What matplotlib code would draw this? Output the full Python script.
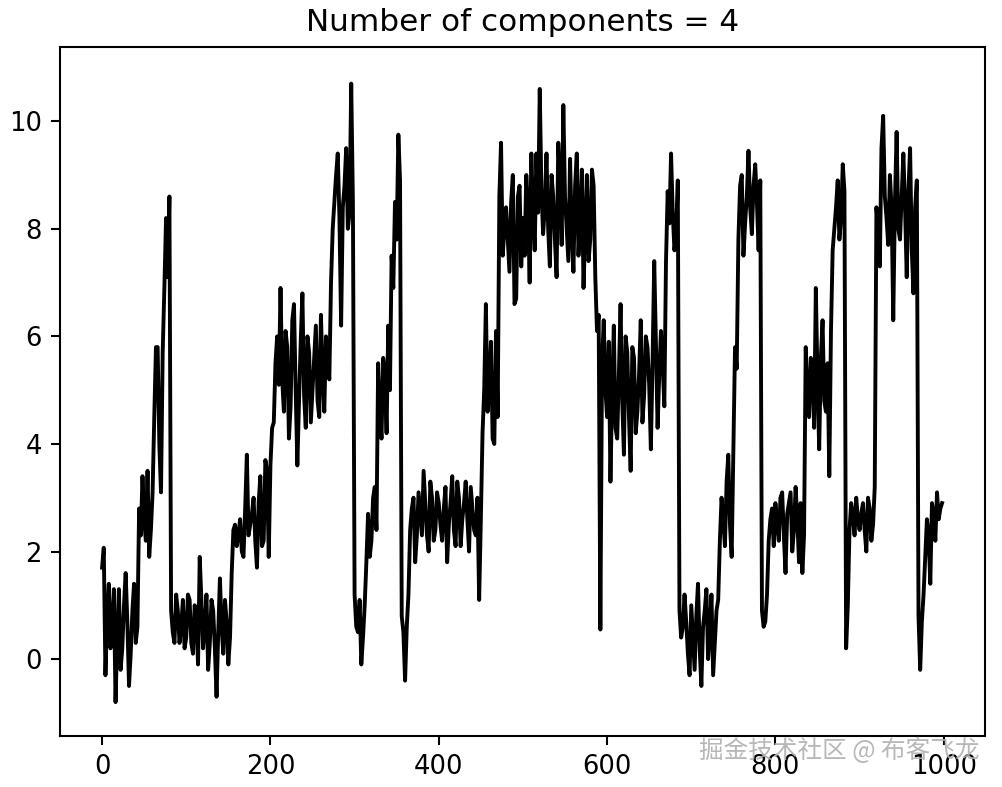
import numpy as np
import matplotlib
matplotlib.use('Agg')
import matplotlib.pyplot as plt

# 값은 그림에서 눈으로 읽은 것
# seg_* : x = 0, 4, 8, ... 996 / mid_* : x = 2, 6, 10, ... 998
seg_0 = [1.7, -0.3, 1.4, 0.6, -0.8, 1.3, 0.2, 1.6, -0.5, 0.9, 0.3, 2.8, 3.4,
         2.2, 1.9, 3.1, 5.8, 4.0, 5.7, 8.2, 8.6, 0.5, 1.2, 0.3, 1.1]
seg_1 = [0.4, 1.1, 0.1, 0.8, 1.9, 0.2, 1.2, 0.3, 0.9, -0.7, 1.5, 0.1, 0.7,
         0.4, 2.4, 2.1, 2.6, 1.9, 3.8, 2.5, 3.0, 1.7, 3.4, 2.2, 3.5]
seg_2 = [3.6, 4.4, 6.0, 6.9, 4.6, 5.8, 4.7, 6.6, 3.6, 5.9, 4.9, 6.0, 4.4,
         5.6, 4.8, 6.4, 4.6, 5.5, 7.0, 8.5, 9.4, 6.2, 8.8, 8.0, 10.7]
seg_3 = [1.2, 0.5, -0.1, 1.0, 2.7, 2.2, 3.2, 5.5, 4.1, 5.3, 6.2, 7.5, 8.5,
         9.75, 0.8, -0.4, 1.2, 2.8, 1.8, 3.1, 2.3, 2.9, 2.0, 3.0, 2.4]
seg_4 = [2.9, 2.2, 3.2, 2.5, 3.4, 2.1, 3.0, 2.6, 3.3, 2.0, 2.8, 2.3, 1.1,
         4.2, 6.6, 5.0, 4.1, 6.1, 8.6, 7.5, 8.4, 7.2, 9.0, 6.7, 8.8]
seg_5 = [8.2, 9.0, 7.0, 8.3, 9.4, 10.6, 7.9, 9.4, 7.3, 8.6, 7.1, 8.9, 10.3,
         8.0, 9.3, 7.2, 9.4, 8.2, 6.9, 9.0, 7.8, 8.8, 6.1, 0.55, 6.3]
seg_6 = [4.5, 3.3, 6.2, 4.1, 6.6, 3.8, 5.7, 3.5, 5.6, 4.6, 6.3, 4.9, 5.8,
         3.9, 7.4, 4.3, 6.1, 4.7, 8.7, 9.4, 7.6, 8.9, 0.4, 1.2, 0.1]
seg_7 = [1.0, -0.2, 1.4, -0.5, 0.9, 0.0, 1.2, 0.3, 1.1, 3.0, 2.1, 3.8, 1.9,
         5.8, 7.8, 9.0, 8.1, 9.45, 7.9, 9.2, 7.6, 0.9, 0.7, 2.2, 2.8]
seg_8 = [2.9, 2.2, 3.1, 1.6, 2.9, 2.0, 3.2, 1.8, 1.6, 5.8, 4.5, 5.4, 6.9,
         3.9, 6.3, 4.6, 3.4, 7.6, 8.4, 7.8, 9.2, 0.2, 2.4, 2.7, 3.0]
seg_9 = [2.4, 2.9, 2.0, 2.8, 2.5, 8.4, 7.3, 10.1, 8.2, 9.0, 6.3, 9.8, 7.8,
         9.4, 7.1, 9.5, 6.8, 8.9, -0.2, 1.2, 2.6, 1.4, 2.7, 3.1, 2.8]

mid_0 = [2.07, 0.8, 0.2, 1.3, 0.4, -0.2, 1.0, 0.7, 0.1, 1.4, 0.6, 2.3, 2.6,
         3.5, 2.4, 4.5, 5.8, 3.1, 6.9, 7.1, 0.9, 0.3, 0.9, 0.6, 0.2]
mid_1 = [1.2, 0.3, 1.0, -0.1, 1.1, 0.6, -0.2, 1.1, 0.2, 0.5, 0.6, 1.1, -0.1,
         1.6, 2.5, 2.3, 2.0, 2.8, 2.3, 2.7, 2.2, 2.9, 2.1, 3.7, 1.9]
mid_2 = [4.3, 5.5, 5.1, 5.2, 6.1, 4.1, 6.3, 5.0, 4.8, 6.8, 4.3, 5.7, 5.0,
         6.2, 4.5, 5.3, 6.0, 5.2, 8.0, 9.0, 8.2, 8.4, 9.5, 8.3, 8.5]
mid_3 = [0.6, 1.1, 0.4, 1.8, 1.9, 3.0, 2.4, 4.6, 5.6, 4.2, 5.0, 6.9, 7.8,
         8.9, 0.5, 0.6, 2.4, 3.0, 2.3, 2.7, 3.5, 2.3, 3.3, 2.2, 3.1]
mid_4 = [2.5, 2.8, 1.8, 2.9, 2.4, 3.3, 2.1, 2.9, 2.6, 3.2, 2.4, 3.0, 2.6,
         5.0, 4.6, 5.9, 4.0, 4.5, 9.6, 8.0, 7.8, 8.5, 6.6, 8.6, 7.3]
mid_5 = [7.5, 8.4, 9.4, 7.6, 8.3, 8.7, 8.4, 8.0, 9.0, 7.8, 9.6, 7.7, 8.6,
         7.4, 8.0, 8.8, 7.5, 9.1, 8.0, 7.4, 9.1, 7.1, 6.4, 5.5, 5.0]
mid_6 = [5.9, 5.0, 4.3, 5.3, 4.8, 6.0, 4.5, 5.8, 4.2, 5.3, 4.4, 6.0, 5.1,
         5.5, 5.9, 5.3, 5.5, 7.4, 8.1, 8.3, 7.9, 0.9, 0.6, 0.7, -0.3]
mid_7 = [0.4, 0.8, 0.2, 0.6, 1.3, 0.5, -0.3, 0.9, 2.2, 2.6, 3.3, 2.5, 3.9,
         5.4, 8.8, 7.5, 8.6, 8.4, 8.8, 8.5, 8.9, 0.6, 1.2, 2.6, 2.1]
mid_8 = [2.5, 3.0, 2.3, 2.7, 3.1, 2.4, 2.6, 2.9, 2.3, 4.9, 5.6, 4.3, 5.2,
         5.6, 4.8, 5.5, 6.1, 8.0, 8.9, 8.2, 8.7, 1.0, 2.9, 2.3, 2.6]
mid_9 = [2.7, 2.4, 3.0, 2.2, 3.2, 8.0, 9.5, 8.6, 7.7, 8.4, 8.5, 8.0, 8.6,
         8.4, 8.7, 7.6, 8.4, 0.8, 0.7, 1.9, 2.3, 2.9, 2.2, 2.6, 2.9]

even_vals = seg_0 + seg_1 + seg_2 + seg_3 + seg_4 + seg_5 + seg_6 + seg_7 + seg_8 + seg_9
odd_vals = mid_0 + mid_1 + mid_2 + mid_3 + mid_4 + mid_5 + mid_6 + mid_7 + mid_8 + mid_9

values = np.empty(len(even_vals) + len(odd_vals))
values[0::2] = even_vals
values[1::2] = odd_vals
steps = np.arange(0, 1000, 2)

dpi = 186.5
fig = plt.figure(figsize=(1003 / dpi, 787 / dpi), dpi=dpi)
ax = fig.add_axes([60 / 1003, 51 / 787, 925 / 1003, 689 / 787])

ax.plot(steps, values, color='black', linewidth=1.5)
ax.set_xlim(-50, 1049)
ax.set_ylim(-1.43, 11.38)
ax.set_xticks([0, 200, 400, 600, 800, 1000])
ax.set_yticks([0, 2, 4, 6, 8, 10])
ax.set_title("Number of components = 4")

# 워터마크
fig.text(0.837, 0.046, "掘金技术社区 @ 布客飞龙", ha='center', va='center',
         fontsize=9.5, color='#b0b0b0', alpha=0.9,
         family=['Noto Sans CJK SC', 'DejaVu Sans'])

fig.savefig('out.png', dpi=dpi)
